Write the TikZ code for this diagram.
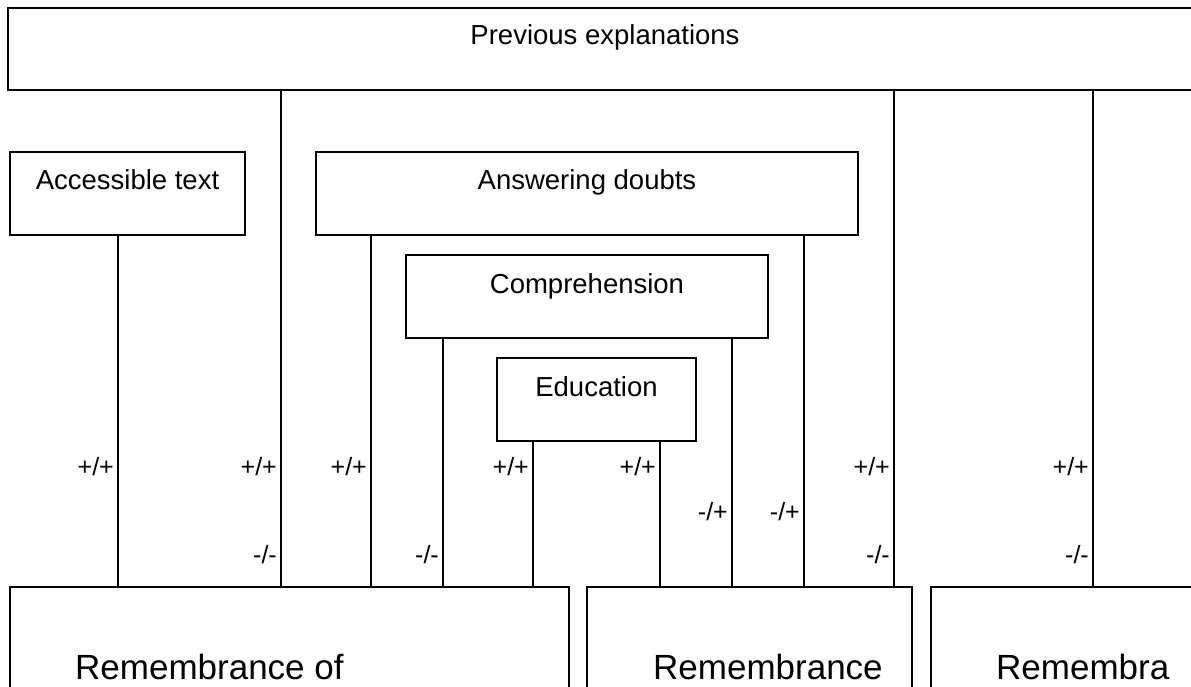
\documentclass[tikz,border=0pt]{standalone}
\usepackage{fontspec}
\setmainfont{Liberation Sans}
\begin{document}
\begin{tikzpicture}[x=1pt,y=-1pt,
  boxstyle/.style={draw,line width=1.6pt,anchor=north west,inner sep=0pt,outer sep=0pt},
  boxtext/.style={anchor=base,inner sep=0pt,font=\fontsize{27.5}{32}\selectfont},
  bigtext/.style={anchor=base west,inner sep=0pt,font=\fontsize{35}{42}\selectfont},
  conn/.style={line width=1.3pt},
  lab/.style={anchor=east,inner sep=0pt,font=\fontsize{25}{30}\selectfont}]
\useasboundingbox (0,0) rectangle (1191,686);
\clip (0,0) rectangle (1191,686);
% boxes
\node[boxstyle,minimum width=1194pt,minimum height=82pt] (prev) at (8,8) {};
\node[boxstyle,minimum width=235pt,minimum height=83pt] (acc) at (10,152) {};
\node[boxstyle,minimum width=542pt,minimum height=83pt] (ans) at (316,152) {};
\node[boxstyle,minimum width=362pt,minimum height=83pt] (comp) at (406,255) {};
\node[boxstyle,minimum width=199pt,minimum height=83pt] (edu) at (497,358) {};
\node[boxstyle,minimum width=559pt,minimum height=150pt] (rem1) at (10,587) {};
\node[boxstyle,minimum width=325pt,minimum height=150pt] (rem2) at (587,587) {};
\node[boxstyle,minimum width=330pt,minimum height=150pt] (rem3) at (931,587) {};
% texts
\node[boxtext] (tprev) at (605,44) {Previous explanations};
\node[boxtext] (tacc) at (127.5,189) {Accessible text};
\node[boxtext] (tans) at (587,189) {Answering doubts};
\node[boxtext] (tcomp) at (587,293) {Comprehension};
\node[boxtext] (tedu) at (596.5,396) {Education};
\node[bigtext] (trem1) at (75,679) {Remembrance of};
\node[bigtext] (trem2) at (653,679) {Remembrance};
\node[bigtext] (trem3) at (996,679) {Remembra};
% connectors
\draw[conn] (118,0 |- acc.south) -- (118,0 |- rem1.north);
\draw[conn] (281,0 |- prev.south) -- (281,0 |- rem1.north);
\draw[conn] (371,0 |- ans.south) -- (371,0 |- rem1.north);
\draw[conn] (443,0 |- comp.south) -- (443,0 |- rem1.north);
\draw[conn] (533,0 |- edu.south) -- (533,0 |- rem1.north);
\draw[conn] (660,0 |- edu.south) -- (660,0 |- rem2.north);
\draw[conn] (732,0 |- comp.south) -- (732,0 |- rem2.north);
\draw[conn] (804,0 |- ans.south) -- (804,0 |- rem2.north);
\draw[conn] (894,0 |- prev.south) -- (894,0 |- rem2.north);
\draw[conn] (1093,0 |- prev.south) -- (1093,0 |- rem3.north);
% labels
\node[lab] (l1) at (114,467) {+/+};
\node[lab] (l2) at (277,467) {+/+};
\node[lab] (l3) at (277,555) {-/-};
\node[lab] (l4) at (367,467) {+/+};
\node[lab] (l5) at (439,555) {-/-};
\node[lab] (l6) at (529,467) {+/+};
\node[lab] (l7) at (656,467) {+/+};
\node[lab] (l8) at (728,512) {-/+};
\node[lab] (l9) at (800,512) {-/+};
\node[lab] (l10) at (890,467) {+/+};
\node[lab] (l11) at (890,555) {-/-};
\node[lab] (l12) at (1089,467) {+/+};
\node[lab] (l13) at (1089,555) {-/-};
\end{tikzpicture}
\end{document}
